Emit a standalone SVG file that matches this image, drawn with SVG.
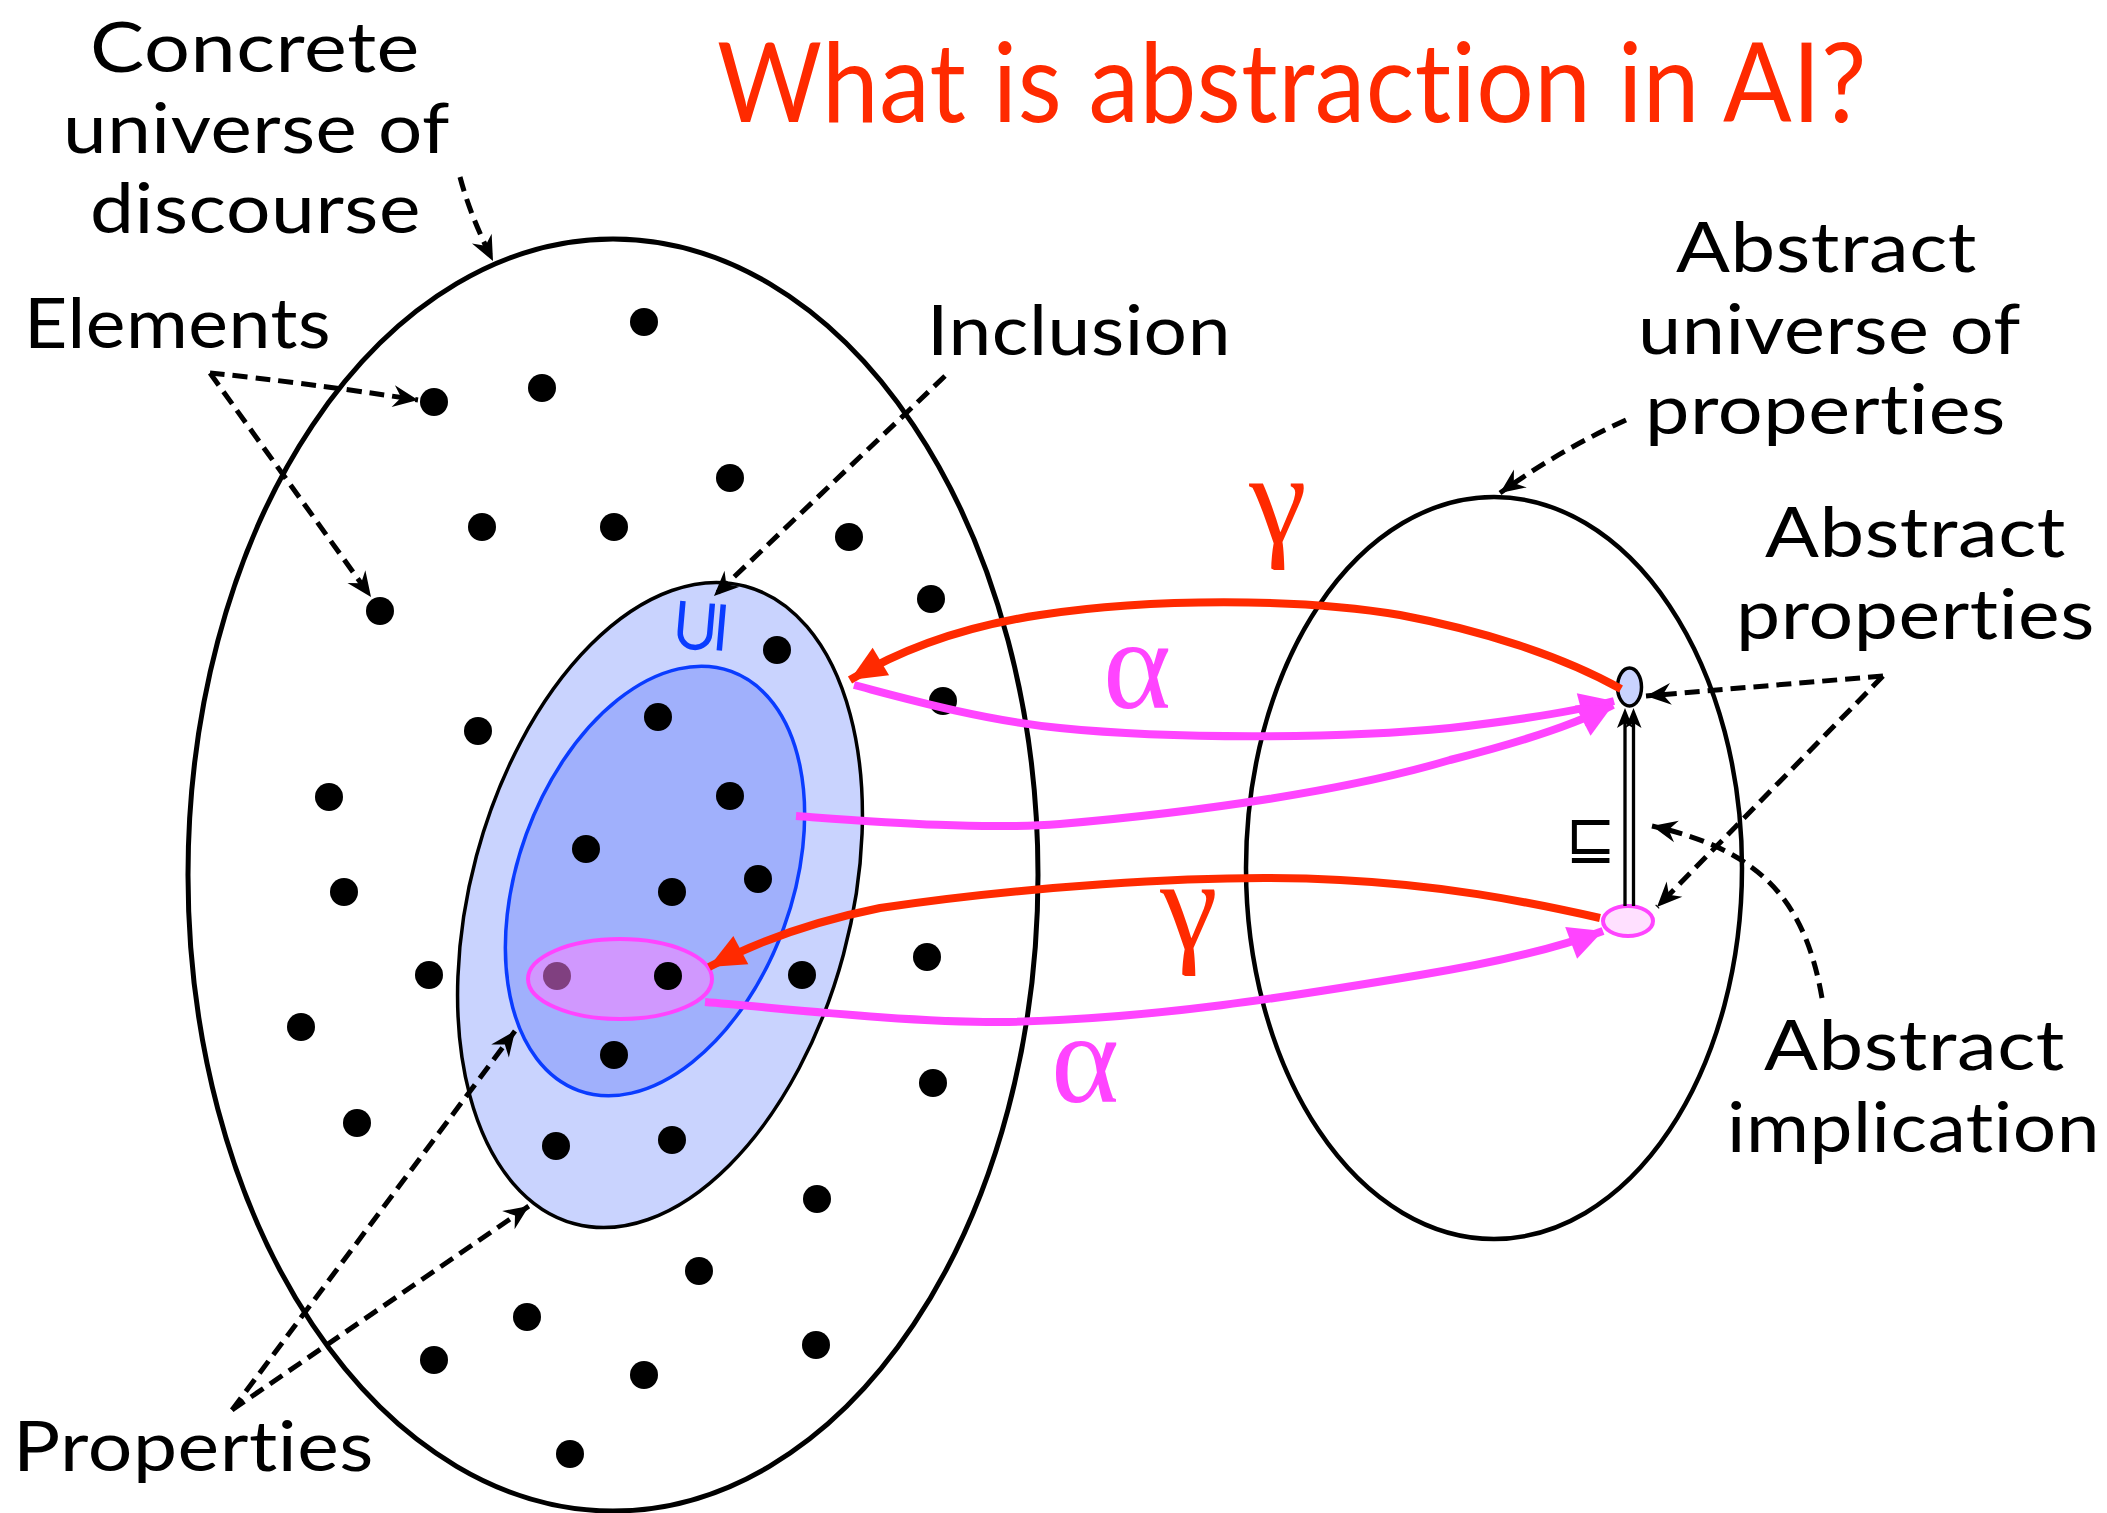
<svg xmlns="http://www.w3.org/2000/svg" width="2107" height="1513" viewBox="0 0 2107 1513">
<style>
.lbl{font-family:Lato,"Open Sans","Liberation Sans",sans-serif;font-size:70px;fill:#000;letter-spacing:0.5px;font-variant-ligatures:none;font-feature-settings:"liga" 0,"clig" 0,"dlig" 0,"calt" 0}
.title{font-family:Lato,"Open Sans","Liberation Sans",sans-serif;font-size:110px;fill:#FF2A00;letter-spacing:0.5px;font-variant-ligatures:none;font-feature-settings:"liga" 0,"clig" 0,"dlig" 0,"calt" 0}
.greek{font-family:"Liberation Serif","DejaVu Serif",serif;font-size:130px;text-anchor:middle}
.dot{fill:#000}
.dash{fill:none;stroke:#000;stroke-width:5;stroke-dasharray:15 8;marker-end:url(#dhead)}
.red{fill:none;stroke:#FF2A00;stroke-width:8;marker-end:url(#rhead)}
.mag{fill:none;stroke:#FF44FF;stroke-width:8;marker-end:url(#mhead)}
</style>
<defs>
<marker id="dhead" markerUnits="userSpaceOnUse" viewBox="-28 -14 30 28" markerWidth="30" markerHeight="28" refX="0" refY="0" orient="auto">
<path d="M0,0 L-25,-11 L-17,0 L-25,11 Z" fill="#000"/>
</marker>
<marker id="rhead" markerUnits="userSpaceOnUse" viewBox="-40 -20 42 40" markerWidth="42" markerHeight="40" refX="0" refY="0" orient="auto">
<path d="M0,0 L-36,-16 L-36,16 Z" fill="#FF2A00"/>
</marker>
<marker id="mhead" markerUnits="userSpaceOnUse" viewBox="-40 -20 42 40" markerWidth="42" markerHeight="40" refX="0" refY="0" orient="auto">
<path d="M0,0 L-34,-17 L-34,17 Z" fill="#FF44FF"/>
</marker>
</defs>
<rect width="2107" height="1513" fill="#fff"/>

<text class="title" x="717" y="122" textLength="1150" lengthAdjust="spacingAndGlyphs">What is abstraction in AI?</text>

<g id="concrete-universe">
<ellipse cx="613" cy="875" rx="425" ry="636" fill="none" stroke="#000" stroke-width="5"/>
</g>
<g id="abstract-universe">
<ellipse cx="1494" cy="868" rx="248" ry="371" fill="none" stroke="#000" stroke-width="4.5"/>
</g>
<g id="property-outer">
<ellipse cx="660" cy="905" rx="190" ry="330" transform="rotate(15 660 905)" fill="#C9D3FE" stroke="#000" stroke-width="3.5"/>
</g>
<g id="property-inner">
<ellipse cx="655" cy="881" rx="137" ry="223" transform="rotate(20 655 881)" fill="#A0B0FC" stroke="#0A3CFF" stroke-width="3.5"/>
</g>
<g id="inclusion-symbol">
<text x="0" y="0" transform="translate(698,626) rotate(-85)" font-family="DejaVu Sans,sans-serif" font-size="75" fill="#0A3CFF" text-anchor="middle" dominant-baseline="central">⊆</text>
</g>

<g id="elements">
<circle class="dot" cx="644" cy="322" r="14"/>
<circle class="dot" cx="434" cy="402" r="14"/>
<circle class="dot" cx="542" cy="388" r="14"/>
<circle class="dot" cx="730" cy="478" r="14"/>
<circle class="dot" cx="482" cy="527" r="14"/>
<circle class="dot" cx="614" cy="527" r="14"/>
<circle class="dot" cx="849" cy="537" r="14"/>
<circle class="dot" cx="380" cy="611" r="14"/>
<circle class="dot" cx="931" cy="599" r="14"/>
<circle class="dot" cx="777" cy="650" r="14"/>
<circle class="dot" cx="943" cy="701" r="14"/>
<circle class="dot" cx="658" cy="717" r="14"/>
<circle class="dot" cx="478" cy="731" r="14"/>
<circle class="dot" cx="329" cy="797" r="14"/>
<circle class="dot" cx="730" cy="796" r="14"/>
<circle class="dot" cx="586" cy="849" r="14"/>
<circle class="dot" cx="758" cy="879" r="14"/>
<circle class="dot" cx="672" cy="892" r="14"/>
<circle class="dot" cx="344" cy="892" r="14"/>
<circle class="dot" cx="429" cy="975" r="14"/>
<circle class="dot" cx="557" cy="976" r="14"/>
<circle class="dot" cx="802" cy="975" r="14"/>
<circle class="dot" cx="927" cy="957" r="14"/>
<circle class="dot" cx="301" cy="1027" r="14"/>
<circle class="dot" cx="614" cy="1055" r="14"/>
<circle class="dot" cx="933" cy="1083" r="14"/>
<circle class="dot" cx="357" cy="1123" r="14"/>
<circle class="dot" cx="556" cy="1146" r="14"/>
<circle class="dot" cx="672" cy="1140" r="14"/>
<circle class="dot" cx="817" cy="1199" r="14"/>
<circle class="dot" cx="699" cy="1271" r="14"/>
<circle class="dot" cx="527" cy="1317" r="14"/>
<circle class="dot" cx="434" cy="1360" r="14"/>
<circle class="dot" cx="644" cy="1375" r="14"/>
<circle class="dot" cx="816" cy="1345" r="14"/>
<circle class="dot" cx="570" cy="1454" r="14"/>
</g>

<g id="property-pink">
<ellipse cx="620" cy="979" rx="92" ry="40" fill="#FF80FF" fill-opacity="0.5" stroke="#FF44FF" stroke-width="4"/>
<circle class="dot" cx="668" cy="976" r="14"/>
</g>

<g id="abstract-property-top">
<ellipse cx="1629.5" cy="687" rx="12" ry="19" fill="#C9D3FE" stroke="#000" stroke-width="3.5"/>
</g>
<g id="abstract-property-bottom">
<ellipse cx="1628" cy="921" rx="25" ry="15" fill="#FFE0FF" stroke="#FF44FF" stroke-width="4"/>
</g>
<g id="implication-symbol">
<text x="1591" y="858" font-family="DejaVu Sans,sans-serif" font-size="60" fill="#000" text-anchor="middle">⊑</text>
</g>

<g id="connectors">
<path class="red" d="M1621,689 C1560,655 1480,630 1400,615 C1300,598 1150,598 1040,615 C960,627 900,650 850,680"/>
<path class="mag" d="M854,685 C900,697 980,720 1060,728 C1180,740 1350,738 1450,728 C1520,720 1580,710 1614,701"/>
<path class="mag" d="M796,816 C880,822 980,830 1060,824 C1200,812 1350,790 1450,760 C1530,740 1580,722 1613,705"/>
<path class="red" d="M1600,918 C1520,900 1440,885 1340,880 C1200,872 1000,890 880,908 C820,920 760,940 709,967"/>
<path class="mag" d="M705,1002 C780,1008 900,1022 1000,1022 C1150,1020 1300,995 1420,975 C1500,962 1560,947 1603,931"/>
<path d="M1625,906 L1625,722 M1633.5,906 L1633.5,722" fill="none" stroke="#000" stroke-width="3.3"/>
<path d="M1625,708 L1633,728 L1625,723 L1617,728 Z M1633.5,708 L1641.5,728 L1633.5,723 L1625.5,728 Z" fill="#000"/>
<path class="dash" d="M460,177 Q470,215 493,261"/>
<path class="dash" d="M210,373 Q300,382 418,400"/>
<path class="dash" d="M210,373 L371,597"/>
<path class="dash" d="M945,376 L714,596"/>
<path class="dash" d="M1626,420 Q1560,450 1500,493"/>
<path class="dash" d="M1883,676 L1646,696"/>
<path class="dash" d="M1883,676 L1657,907"/>
<path class="dash" d="M1822,998 C1805,900 1760,850 1652,826"/>
<path class="dash" d="M232,1410 L515,1031"/>
<path class="dash" d="M232,1410 L529,1206"/>
</g>

<g id="greek-labels">
<text class="greek" x="1278" y="542" fill="#FF2A00">γ</text>
<text class="greek" x="1137" y="708" fill="#FF44FF">α</text>
<text class="greek" x="1189" y="948" fill="#FF2A00">γ</text>
<text class="greek" x="1085" y="1102" fill="#FF44FF">α</text>
</g>

<g id="labels">
<text class="lbl" x="90" y="72" textLength="330" lengthAdjust="spacingAndGlyphs">Concrete</text>
<text class="lbl" x="63" y="153" textLength="387" lengthAdjust="spacingAndGlyphs">universe of</text>
<text class="lbl" x="90" y="233" textLength="331" lengthAdjust="spacingAndGlyphs">discourse</text>
<text class="lbl" x="24" y="348" textLength="307" lengthAdjust="spacingAndGlyphs">Elements</text>
<text class="lbl" x="927" y="355" textLength="304" lengthAdjust="spacingAndGlyphs">Inclusion</text>
<text class="lbl" x="1676" y="272" textLength="301" lengthAdjust="spacingAndGlyphs">Abstract</text>
<text class="lbl" x="1638" y="354" textLength="383" lengthAdjust="spacingAndGlyphs">universe of</text>
<text class="lbl" x="1645" y="434" textLength="361" lengthAdjust="spacingAndGlyphs">properties</text>
<text class="lbl" x="1765" y="557" textLength="301" lengthAdjust="spacingAndGlyphs">Abstract</text>
<text class="lbl" x="1736" y="639" textLength="359" lengthAdjust="spacingAndGlyphs">properties</text>
<text class="lbl" x="1764" y="1070" textLength="301" lengthAdjust="spacingAndGlyphs">Abstract</text>
<text class="lbl" x="1727" y="1152" textLength="373" lengthAdjust="spacingAndGlyphs">implication</text>
<text class="lbl" x="13" y="1471" textLength="361" lengthAdjust="spacingAndGlyphs">Properties</text>
</g>
</svg>
